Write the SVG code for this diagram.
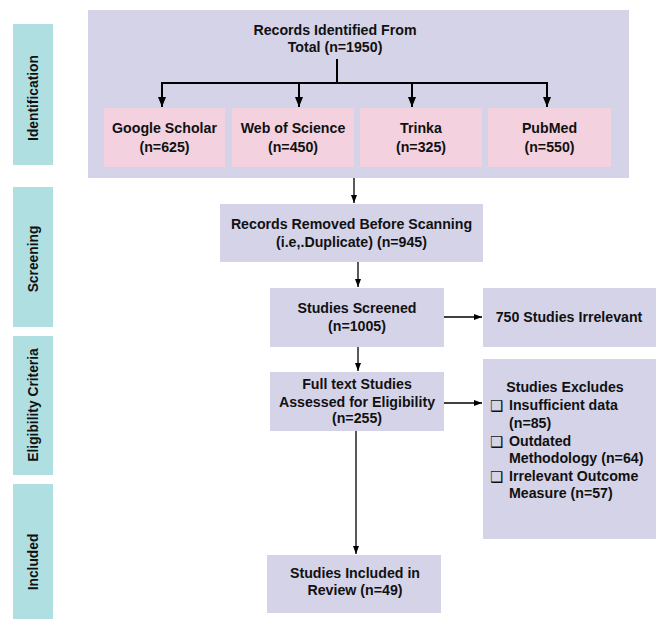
<svg xmlns="http://www.w3.org/2000/svg" width="657" height="619" viewBox="0 0 657 619">
<defs>
<style>
.side{fill:#B0DFE2}
.lav{fill:#D5D3E8}
.pink{fill:#F3D1DF}
text{font-family:"Liberation Sans",Arial,sans-serif;font-weight:bold;font-size:14.2px;fill:#111}
.c{text-anchor:middle}
.s{font-size:13.8px}
.bx{font-family:"DejaVu Sans",sans-serif;font-weight:normal;font-size:15px}
.ln{stroke:#000;fill:none}
</style>
<marker id="ah" markerUnits="userSpaceOnUse" markerWidth="8" markerHeight="8" viewBox="0 0 8 8" refX="8" refY="4" orient="auto"><path d="M0,1 L8,4 L0,7 Z" fill="#000"/></marker>
<marker id="ahb" markerUnits="userSpaceOnUse" markerWidth="10" markerHeight="10" viewBox="0 0 10 10" refX="10" refY="5" orient="auto"><path d="M0,1 L10,5 L0,9 Z" fill="#000"/></marker>
</defs>
<rect width="657" height="619" fill="#fff"/>
<g id="side-identification"><rect class="side" x="13" y="24" width="40" height="141"/><text class="c s" transform="translate(38,98) rotate(-90)">Identification</text></g>
<g id="side-screening"><rect class="side" x="13" y="187" width="40" height="140"/><text class="c s" transform="translate(38,259) rotate(-90)">Screening</text></g>
<g id="side-eligibility"><rect class="side" x="13" y="336" width="40" height="139"/><text class="c s" transform="translate(38,405) rotate(-90)">Eligibility Criteria</text></g>
<g id="side-included"><rect class="side" x="13" y="484" width="40" height="150"/><text class="c s" transform="translate(38,562) rotate(-90)">Included</text></g>
<g id="records-identified"><rect class="lav" x="88" y="10" width="541" height="168"/><text class="c" x="335" y="35">Records Identified From</text><text class="c" x="335" y="52">Total (n=1950)</text></g>
<g id="google"><rect class="pink" x="104" y="108" width="121" height="59"/><text class="c" x="164.5" y="133">Google Scholar</text><text class="c" x="164.5" y="152">(n=625)</text></g>
<g id="wos"><rect class="pink" x="232" y="108" width="122" height="59"/><text class="c" x="293" y="133">Web of Science</text><text class="c" x="293" y="152">(n=450)</text></g>
<g id="trinka"><rect class="pink" x="360" y="108" width="122" height="59"/><text class="c" x="421" y="133">Trinka</text><text class="c" x="421" y="152">(n=325)</text></g>
<g id="pubmed"><rect class="pink" x="488" y="108" width="123" height="59"/><text class="c" x="549.5" y="133">PubMed</text><text class="c" x="549.5" y="152">(n=550)</text></g>
<g id="records-removed"><rect class="lav" x="220" y="204" width="263" height="58"/><text class="c" x="351.5" y="229">Records Removed Before Scanning</text><text class="c" x="351.5" y="247">(i.e,.Duplicate)  (n=945)</text></g>
<g id="screened"><rect class="lav" x="270" y="288" width="174" height="59"/><text class="c" x="357" y="313">Studies Screened</text><text class="c" x="357" y="331">(n=1005)</text></g>
<g id="irrelevant"><rect class="lav" x="483" y="288" width="173" height="59"/><text class="c" x="569" y="322">750 Studies Irrelevant</text></g>
<g id="fulltext"><rect class="lav" x="270" y="372" width="174" height="59"/><text class="c" x="357" y="389">Full text Studies</text><text class="c" x="357" y="407">Assessed for Eligibility</text><text class="c" x="357" y="423">(n=255)</text></g>
<g id="excludes"><rect class="lav" x="483" y="359" width="173" height="180"/>
<text class="c" x="565" y="392">Studies Excludes</text>
<text class="bx" x="490" y="411">❑</text><text x="509" y="410">Insufficient data</text>
<text x="509" y="428">(n=85)</text>
<text class="bx" x="490" y="447">❑</text><text x="509" y="446">Outdated</text>
<text x="509" y="463">Methodology (n=64)</text>
<text class="bx" x="490" y="482">❑</text><text x="509" y="481">Irrelevant Outcome</text>
<text x="509" y="498">Measure (n=57)</text>
</g>
<g id="included"><rect class="lav" x="267" y="555" width="174" height="58"/><text class="c" x="355" y="578">Studies Included  in</text><text class="c" x="355" y="595">Review (n=49)</text></g>
<g id="connectors">
<path class="ln" stroke-width="2" d="M337,59 V83 M161,83 H548"/>
<path class="ln" stroke-width="2" d="M162,82 V107" marker-end="url(#ahb)"/>
<path class="ln" stroke-width="2" d="M299,83 V107" marker-end="url(#ahb)"/>
<path class="ln" stroke-width="2" d="M412,83 V107" marker-end="url(#ahb)"/>
<path class="ln" stroke-width="2" d="M547,82 V107" marker-end="url(#ahb)"/>
<path class="ln" stroke-width="1.3" d="M354,178 V203" marker-end="url(#ah)"/>
<path class="ln" stroke-width="1.3" d="M358,262 V287" marker-end="url(#ah)"/>
<path class="ln" stroke-width="1.3" d="M444,317 H482" marker-end="url(#ah)"/>
<path class="ln" stroke-width="1.3" d="M358,347 V371" marker-end="url(#ah)"/>
<path class="ln" stroke-width="1.3" d="M444,403 H482" marker-end="url(#ah)"/>
<path class="ln" stroke-width="1.3" d="M356,431 V554" marker-end="url(#ah)"/>
</g>
</svg>
